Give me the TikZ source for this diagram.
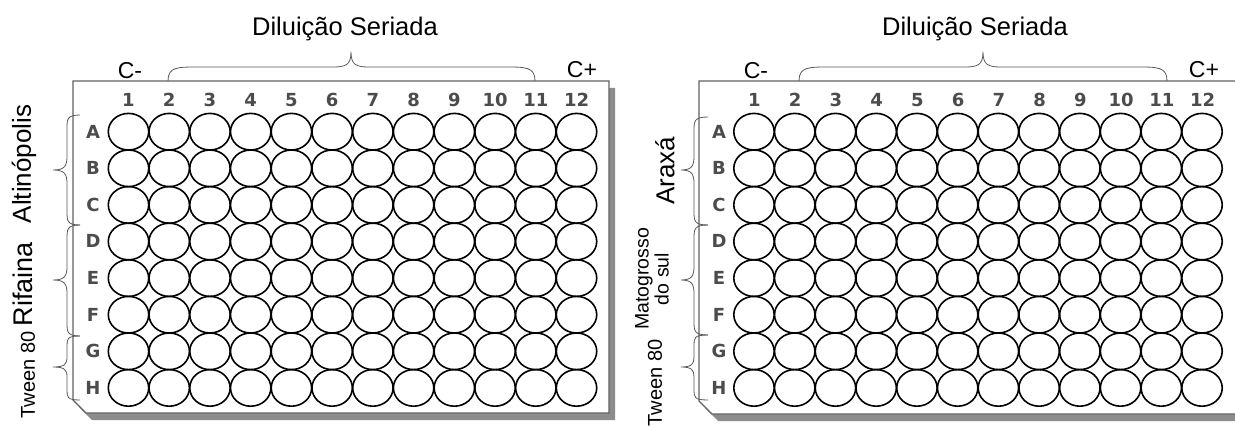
\documentclass[tikz,border=0pt]{standalone}
\usepackage{fontspec}
\setmainfont{Liberation Sans}
\newfontfamily\numfont{DejaVu Sans}
\usetikzlibrary{shapes.geometric}
\newcommand\mybrace[8]{%
 \draw[brc] (#1,#4) .. controls (#2,#4) and (#2,{#4+0.3*#7}) .. (#2,{#4+#7}) -- (#2,{#5-#8}) .. controls (#2,{#5-0.3*#8}) and ({#2-2},#5) .. (#3,#5) .. controls ({#2-2},#5) and (#2,{#5+0.3*#8}) .. (#2,{#5+#8}) -- (#2,{#6-#7}) .. controls (#2,{#6-0.3*#7}) and (#2,#6) .. (#1,#6);}
\newcommand\mytopbrace[8]{%
 \draw[brc] (#1,#4) .. controls (#1,#5) and ({#1+0.3*#7},#5) .. ({#1+#7},#5) -- ({#2-#8},#5) .. controls ({#2-0.3*#8},#5) and (#2,{#5-2}) .. (#2,#6) .. controls (#2,{#5-2}) and ({#2+0.3*#8},#5) .. ({#2+#8},#5) -- ({#3-#7},#5) .. controls ({#3-0.3*#7},#5) and (#3,#5) .. (#3,#4);}
\begin{document}
\begin{tikzpicture}[x=1pt,y=-1pt,
  well/.style={draw=black, line width=1.6pt, ellipse, minimum width=40.4pt, minimum height=36.6pt, inner sep=0pt},
  plate/.style={draw=black!62, line width=1.4pt, fill=white},
  shade/.style={fill=black!45},
  brc/.style={draw=black!65, line width=0.8pt},
  big/.style={font=\fontsize{25.5}{28}\selectfont, inner sep=0pt},
  cl/.style={font=\fontsize{23}{26}\selectfont, inner sep=0pt, anchor=base},
  side/.style={font=\fontsize{20}{20}\selectfont, inner sep=0pt, rotate=90},
  idx/.style={font=\numfont\bfseries\fontsize{18}{20}\selectfont, text=black!70, inner sep=0pt, anchor=base},
]
\useasboundingbox[fill=white] (0,0) rectangle (1235,428);
% ---------- left plate ----------
\fill[shade, shift={(6,7)}] (73,81) -- (609,81) -- (609,413) -- (86,413) -- (73,400) -- cycle;
\draw[plate] (73,81) -- (609,81) -- (609,413) -- (86,413) -- (73,400) -- cycle;
\foreach \c in {1,...,12} \node[idx] (Ln\c) at ({128.5+40.73*(\c-1)},106.5) {\c};
\foreach \r [count=\i from 0] in {A,B,C,D,E,F,G,H} {
  \node[idx] (Lr\r) at (93,{138+36.6*\i}) {\r};
  \foreach \c in {1,...,12} \node[well] (L\r\c) at ({128.5+40.73*(\c-1)},{131.7+36.6*\i}) {};
}
% ---------- right plate ----------
\fill[shade, shift={(6,7)}] (699,81) -- (1240,81) -- (1240,414) -- (712,414) -- (699,401) -- cycle;
\draw[plate] (699,81) -- (1240,81) -- (1240,414) -- (712,414) -- (699,401) -- cycle;
\foreach \c in {1,...,12} \node[idx] (Rn\c) at ({754.5+40.73*(\c-1)},106.5) {\c};
\foreach \r [count=\i from 0] in {A,B,C,D,E,F,G,H} {
  \node[idx] (Rr\r) at (719,{138+36.6*\i}) {\r};
  \foreach \c in {1,...,12} \node[well] (R\r\c) at ({754+40.73*(\c-1)},{131.7+36.6*\i}) {};
}
% ---------- top labels ----------
\node[big, anchor=base] (Ldil) at (345,36) {Diluição Seriada};
\node[big, anchor=base] (Rdil) at (975,36) {Diluição Seriada};
\node[cl] (Lcm) at (130,78) {C-};
\node[cl] (Lcp) at (582,77.5) {C+};
\node[cl] (Rcm) at (756,78) {C-};
\node[cl] (Rcp) at (1204,77.5) {C+};
\mytopbrace{168}{351}{535}{81}{67}{52}{30}{18}
\mytopbrace{799}{983}{1167}{81}{67}{52}{30}{18}
% ---------- side braces ----------
\mybrace{80}{67}{53}{115}{170}{225}{14}{14}
\mybrace{80}{67}{53}{225}{280}{336}{14}{14}
\mybrace{80}{67}{53}{336}{367}{400}{10}{10}
\mybrace{708}{694}{681}{117}{170}{225}{14}{14}
\mybrace{708}{694}{681}{225}{280}{335}{14}{14}
\mybrace{708}{694}{681}{335}{367}{400}{10}{10}
% ---------- side labels ----------
\node[big, rotate=90, font=\fontsize{26}{28}\selectfont] (Lalt) at (24,164) {Altinópolis};
\node[big, rotate=90, font=\fontsize{27}{28}\selectfont] (Lrif) at (23,284) {Rifaina};
\node[side] (Ltw) at (28,375) {Tween 80};
\node[big, rotate=90, font=\fontsize{26}{28}\selectfont] (Rara) at (665,171) {Araxá};
\node[side, align=center, font=\fontsize{19.5}{20}\selectfont] (Rmat) at (652,279) {Matogrosso\\do sul};
\node[side] (Rtw) at (655,383) {Tween 80};
\end{tikzpicture}
\end{document}
